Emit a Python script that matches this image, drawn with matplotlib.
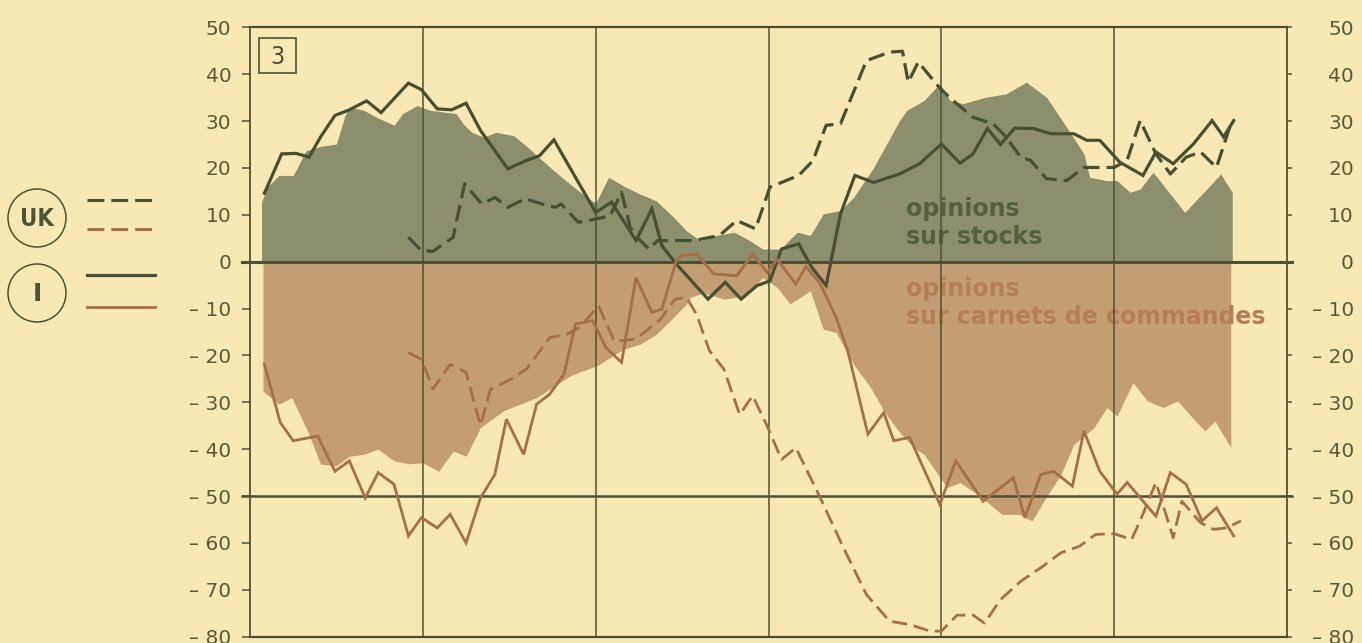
import matplotlib
matplotlib.use("Agg")
import matplotlib.pyplot as plt
from matplotlib.patches import Circle, Rectangle

# ---------------- data (x in months from the left edge of the chart) ----------------
year_lines = [12, 24, 36, 48, 60]
y_ticks = [50, 40, 30, 20, 10, 0, -10, -20, -30, -40, -50, -60, -70, -80]
y_tick_labels = ["50", "40", "30", "20", "10", "0", "– 10", "– 20", "– 30",
                 "– 40", "– 50", "– 60", "– 70", "– 80"]

# envelope of stock opinions (green area)
env_stocks_x = [0.8, 0.8, 1.2, 2.0, 3.0, 3.9, 4.9, 6.0, 6.6, 6.9, 7.9, 8.8, 10.0, 10.6,
                11.6, 12.5, 14.3, 14.8, 15.4, 16.2, 17.1, 18.3, 19.4, 20.8, 22.2, 23.4,
                24.0, 24.9, 25.9, 27.1, 28.2, 29.4, 30.3, 31.25, 32.4, 33.6, 34.7, 35.6,
                36.8, 38.0, 38.9, 39.8, 41.0, 41.9, 43.3, 44.2, 45.1, 45.6, 46.8, 47.9,
                48.6, 49.5, 51.1, 52.5, 53.9, 55.3, 56.7, 57.9, 58.3, 59.5, 60.2, 61.1,
                61.8, 62.7, 63.9, 64.9, 66.0, 67.4, 68.2, 68.2]
env_stocks_y = [0, 12.7, 15.9, 18.4, 18.4, 23.7, 24.6, 25.1, 31.2, 33.0, 32.3, 30.8, 29.1,
                31.6, 33.3, 32.3, 31.6, 29.4, 27.6, 26.6, 27.6, 26.9, 24.1, 20.2, 16.6,
                13.7, 12.5, 18.0, 16.2, 14.4, 13.0, 9.5, 6.6, 4.5, 5.6, 6.3, 4.5, 2.7,
                2.7, 6.3, 5.6, 10.2, 10.9, 13.7, 20.1, 25.1, 30.1, 32.3, 34.4, 38.0,
                34.4, 33.7, 35.1, 35.8, 38.3, 35.1, 28.7, 23.0, 18.0, 17.3, 17.3, 14.8,
                15.5, 19.1, 14.4, 10.5, 14.1, 18.7, 14.8, 0]

# envelope of order-book opinions (brown area)
env_orders_x = [0.9, 0.9, 2.0, 2.9, 4.05, 4.9, 6.0, 6.9, 7.9, 8.9, 10.0, 11.0, 12.0, 13.1,
                14.1, 15.0, 16.0, 17.6, 19.9, 22.2, 23.1, 24.1, 25.9, 27.1, 28.2, 29.4,
                30.3, 30.6, 31.5, 32.9, 34.3, 35.6, 36.6, 37.5, 38.9, 39.8, 40.7, 41.9,
                43.1, 44.0, 45.1, 46.1, 46.8, 47.2, 48.4, 49.3, 50.5, 51.4, 52.2, 53.4,
                54.3, 55.1, 56.3, 57.2, 58.6, 59.5, 60.2, 61.3, 62.3, 63.4, 64.4, 65.5,
                66.3, 67.0, 68.1, 68.1]
env_orders_y = [0, -27.6, -30.4, -29.0, -36.5, -43.2, -43.5, -41.5, -41.1, -40.0, -42.5,
                -43.1, -42.9, -44.7, -40.4, -41.5, -35.4, -31.8, -29.0, -24.4, -23.3,
                -22.2, -18.7, -17.6, -15.5, -11.9, -9.0, -7.6, -6.6, -8.0, -7.3, -3.4,
                -5.5, -9.0, -6.2, -14.4, -15.1, -21.9, -26.9, -31.8, -36.4, -39.7, -41.1,
                -42.9, -48.2, -47.1, -49.6, -51.8, -53.9, -53.9, -55.3, -51.1, -45.4,
                -39.0, -35.4, -31.1, -32.9, -25.8, -29.7, -31.1, -29.7, -33.5, -36.1,
                -34.0, -39.7, 0]

# Italy - stocks (solid dark green)
i_stocks_x = [1.0, 2.2, 3.2, 4.1, 4.9, 5.9, 6.9, 8.1, 9.1, 11.0, 11.9, 13.0, 14.0, 15.0,
              16.0, 17.9, 19.2, 20.1, 21.1, 24.0, 25.1, 26.8, 27.9, 28.6, 29.6, 31.8,
              33.0, 34.1, 35.2, 36.1, 36.9, 38.1, 39.0, 40.0, 41.0, 42.0, 43.3, 45.1,
              46.5, 48.0, 49.3, 50.2, 51.2, 52.1, 53.1, 54.4, 55.6, 57.2, 58.1, 59.0,
              60.4, 62.0, 62.9, 64.1, 65.5, 66.8, 67.6, 68.3]
i_stocks_y = [14.6, 23.0, 23.1, 22.3, 26.6, 31.2, 32.4, 34.3, 31.8, 38.1, 36.7, 32.6,
              32.4, 33.8, 28.0, 19.8, 21.6, 22.6, 26.0, 10.5, 12.7, 4.5, 11.3, 3.4, -0.5,
              -8.0, -4.4, -8.0, -5.1, -4.1, 2.7, 3.8, -1.2, -5.1, 10.2, 18.4, 16.9, 18.7,
              20.9, 25.1, 21.0, 23.0, 28.4, 25.0, 28.5, 28.4, 27.3, 27.3, 25.9, 25.9,
              21.2, 18.4, 23.4, 20.9, 25.1, 30.1, 26.6, 30.1]

# United Kingdom - stocks (dashed dark green)
uk_stocks_x = [11.0, 11.9, 12.7, 14.1, 14.9, 16.1, 17.0, 17.9, 19.1, 20.3, 21.2, 21.6,
               22.8, 24.0, 25.0, 25.8, 26.4, 27.1, 27.7, 28.3, 30.8, 32.6, 33.8, 35.1,
               36.1, 38.1, 39.1, 40.0, 41.0, 42.8, 44.4, 45.3, 45.7, 46.4, 47.9, 48.8,
               50.2, 51.6, 52.5, 53.5, 54.2, 55.3, 56.7, 57.9, 60.0, 60.9, 61.8, 62.9,
               63.9, 65.0, 66.0, 67.1, 68.1]
uk_stocks_y = [5.2, 2.4, 2.2, 5.2, 16.6, 12.3, 13.7, 11.6, 13.4, 12.3, 11.6, 12.3, 8.4,
               9.1, 9.8, 14.8, 7.3, 4.5, 2.7, 4.5, 4.5, 5.6, 8.8, 7.0, 15.9, 18.4, 21.6,
               29.1, 29.4, 42.9, 44.7, 44.9, 38.3, 42.6, 37.0, 34.4, 30.8, 29.4, 26.6,
               22.3, 21.6, 17.7, 17.3, 20.1, 20.1, 21.6, 30.1, 23.0, 18.7, 22.3, 23.4,
               20.1, 29.4]

# Italy - order books (solid brown)
i_orders_x = [1.0, 2.1, 3.0, 4.7, 5.9, 6.9, 8.0, 8.9, 10.0, 11.0, 11.9, 13.0, 13.9, 15.0,
              16.0, 17.0, 17.8, 19.0, 19.9, 20.8, 21.8, 22.6, 23.8, 24.7, 25.8, 26.8,
              27.9, 28.6, 29.6, 30.0, 31.0, 32.2, 33.8, 34.9, 35.9, 36.6, 37.9, 38.6,
              39.6, 40.7, 41.5, 42.9, 44.0, 44.7, 45.8, 47.9, 49.0, 50.9, 53.0, 53.8,
              54.9, 55.8, 57.1, 57.9, 59.0, 60.2, 60.9, 62.9, 63.9, 65.0, 66.1, 67.1, 68.3]
i_orders_y = [-21.9, -34.3, -38.2, -37.2, -44.7, -42.5, -50.4, -45.0, -47.5, -58.5, -54.6,
              -56.8, -53.9, -60.0, -50.4, -45.4, -33.6, -41.1, -30.4, -28.3, -24.0,
              -13.3, -12.6, -18.3, -21.5, -3.4, -10.8, -10.1, 0.2, 1.3, 1.6, -2.6, -3.0,
              1.6, -2.3, 0.5, -4.8, -1.0, -4.8, -11.9, -19.0, -36.8, -32.2, -38.2, -37.5,
              -51.8, -42.5, -51.1, -46.1, -54.6, -45.4, -44.7, -47.9, -36.1, -44.7,
              -49.6, -47.1, -54.3, -45.0, -47.5, -55.3, -52.5, -58.5]

# United Kingdom - order books (dashed brown)
uk_orders_x = [11.0, 11.9, 12.7, 13.9, 15.0, 16.0, 16.7, 18.1, 19.2, 20.8, 22.0, 22.9,
               24.2, 25.3, 26.8, 28.5, 29.5, 30.3, 31.0, 31.9, 32.9, 34.0, 34.9, 35.9,
               36.9, 37.9, 39.6, 41.2, 42.8, 44.4, 45.8, 47.2, 48.0, 49.1, 50.2, 51.0,
               52.1, 53.5, 54.9, 56.3, 57.6, 58.7, 60.0, 61.2, 61.8, 62.9, 64.1, 64.7,
               66.0, 66.9, 67.8, 68.8]
uk_orders_y = [-19.4, -20.8, -27.2, -21.9, -23.6, -35.0, -27.2, -25.1, -22.9, -16.2,
               -15.5, -14.0, -9.4, -17.0, -16.5, -12.3, -8.0, -7.6, -11.2, -19.0, -22.9,
               -32.6, -28.6, -35.0, -42.2, -39.7, -50.4, -61.0, -71.0, -76.7, -77.4,
               -78.8, -78.8, -75.4, -75.4, -77.1, -72.1, -68.2, -65.3, -62.1, -60.7,
               -58.2, -58.0, -59.3, -55.3, -47.1, -58.9, -51.1, -55.7, -57.1, -56.8, -55.3]

# ---------------- style ----------------
BG = "#F7E8B6"
GREEN_FILL = "#8B8F6C"
BROWN_FILL = "#C59D74"
DK = "#475030"
BROWN = "#A56F47"
AXC = "#4E5130"
TXT = "#5A5A36"

W, H = 1362, 643
fig = plt.figure(figsize=(W / 100, H / 100), dpi=100, facecolor=BG)

L, R, T, B = 250, 1287, 27.3, 636.7
ax = fig.add_axes([L / W, 1 - B / H, (R - L) / W, (B - T) / H])
ax.set_facecolor(BG)
ax.set_xlim(0, 72)
ax.set_ylim(-80, 50)

ax.fill_between(env_stocks_x, 0, env_stocks_y, color=GREEN_FILL, lw=0, zorder=1)
ax.fill_between(env_orders_x, 0, env_orders_y, color=BROWN_FILL, lw=0, zorder=1)

# labels on the areas
tfont = dict(family="DejaVu Sans", weight="bold", fontsize=17)
ax.text(45.55, 9.8, "opinions", color="#56603F", zorder=1.5, **tfont)
ax.text(45.55, 3.8, "sur stocks", color="#56603F", zorder=1.5, **tfont)
ax.text(45.55, -7.25, "opinions", color="#B47E56", zorder=1.5, **tfont)
ax.text(45.55, -13.2, "sur carnets de commandes", color="#B47E56", zorder=1.5, **tfont)

for xv in year_lines:
    ax.axvline(xv, color=AXC, lw=1.1, zorder=2)
ax.axhline(0, color=AXC, lw=2.2, zorder=2.5, xmin=-8 / (R - L), xmax=1 + 5 / (R - L), clip_on=False)
ax.axhline(-50, color=AXC, lw=1.8, zorder=2.5, xmin=-8 / (R - L), xmax=1 + 5 / (R - L), clip_on=False)

ax.plot(i_stocks_x, i_stocks_y, color=DK, lw=2.3, zorder=3, solid_joinstyle="miter")
ax.plot(uk_stocks_x, uk_stocks_y, color=DK, lw=2.3, zorder=3, dashes=(5.2, 2.2))
ax.plot(i_orders_x, i_orders_y, color=BROWN, lw=2.0, zorder=3, solid_joinstyle="miter")
ax.plot(uk_orders_x, uk_orders_y, color=BROWN, lw=2.0, zorder=3, dashes=(5.5, 2.4))

for s in ["left", "right"]:
    ax.spines[s].set_color(AXC)
    ax.spines[s].set_linewidth(1.3)
for s in ["top", "bottom"]:
    ax.spines[s].set_color(AXC)
    ax.spines[s].set_linewidth(1.6)

ax.set_xticks([])
ax.set_yticks(y_ticks)
ax.set_yticklabels(y_tick_labels)
ax.tick_params(axis="y", direction="out", length=5.8, width=1.1, color=AXC, pad=7.5,
               labelsize=14.5, labelcolor=TXT)

ax2 = ax.twinx()
ax2.set_ylim(-80, 50)
ax2.set_yticks(y_ticks)
ax2.set_yticklabels(y_tick_labels)
ax2.tick_params(axis="y", direction="out", length=3.6, width=1.1, color=AXC,
                pad=(1354 - 1292) * 0.72, labelsize=14.5, labelcolor=TXT)
for lab in ax2.get_yticklabels():
    lab.set_horizontalalignment("right")
for s in ax2.spines.values():
    s.set_visible(False)
ax2.patch.set_visible(False)

# ---------------- overlay in pixel coordinates: legend and panel number ----------------
ov = fig.add_axes([0, 0, 1, 1])
ov.set_xlim(0, W)
ov.set_ylim(H, 0)
ov.axis("off")
ov.patch.set_visible(False)
ov.set_zorder(10)

ov.add_patch(Rectangle((259, 38), 37, 35, fill=False, ec=AXC, lw=1.2))
ov.text(277.5, 56.5, "3", ha="center", va="center", fontsize=18, color=AXC,
        family="DejaVu Sans", fontstretch="condensed")

ov.add_patch(Circle((37, 218), 29, fill=False, ec=AXC, lw=1.1))
ov.add_patch(Circle((37, 293), 29, fill=False, ec=AXC, lw=1.1))
ov.text(37, 219, "UK", ha="center", va="center", fontsize=17, weight="bold",
        color="#4E5535", family="DejaVu Sans", fontstretch="condensed")
ov.text(37, 294, "I", ha="center", va="center", fontsize=18, weight="bold",
        color="#4E5535", family="DejaVu Sans")

ov.plot([87, 155], [200, 200], color=DK, lw=2.2, dashes=(5.5, 2.3))
ov.plot([87, 155], [229, 229], color=BROWN, lw=2.2, dashes=(5.5, 2.3))
ov.plot([87, 155], [275, 275], color=DK, lw=2.3)
ov.plot([87, 155], [307, 307], color=BROWN, lw=2.0)

fig.savefig("out.png", dpi=100, facecolor=BG)
